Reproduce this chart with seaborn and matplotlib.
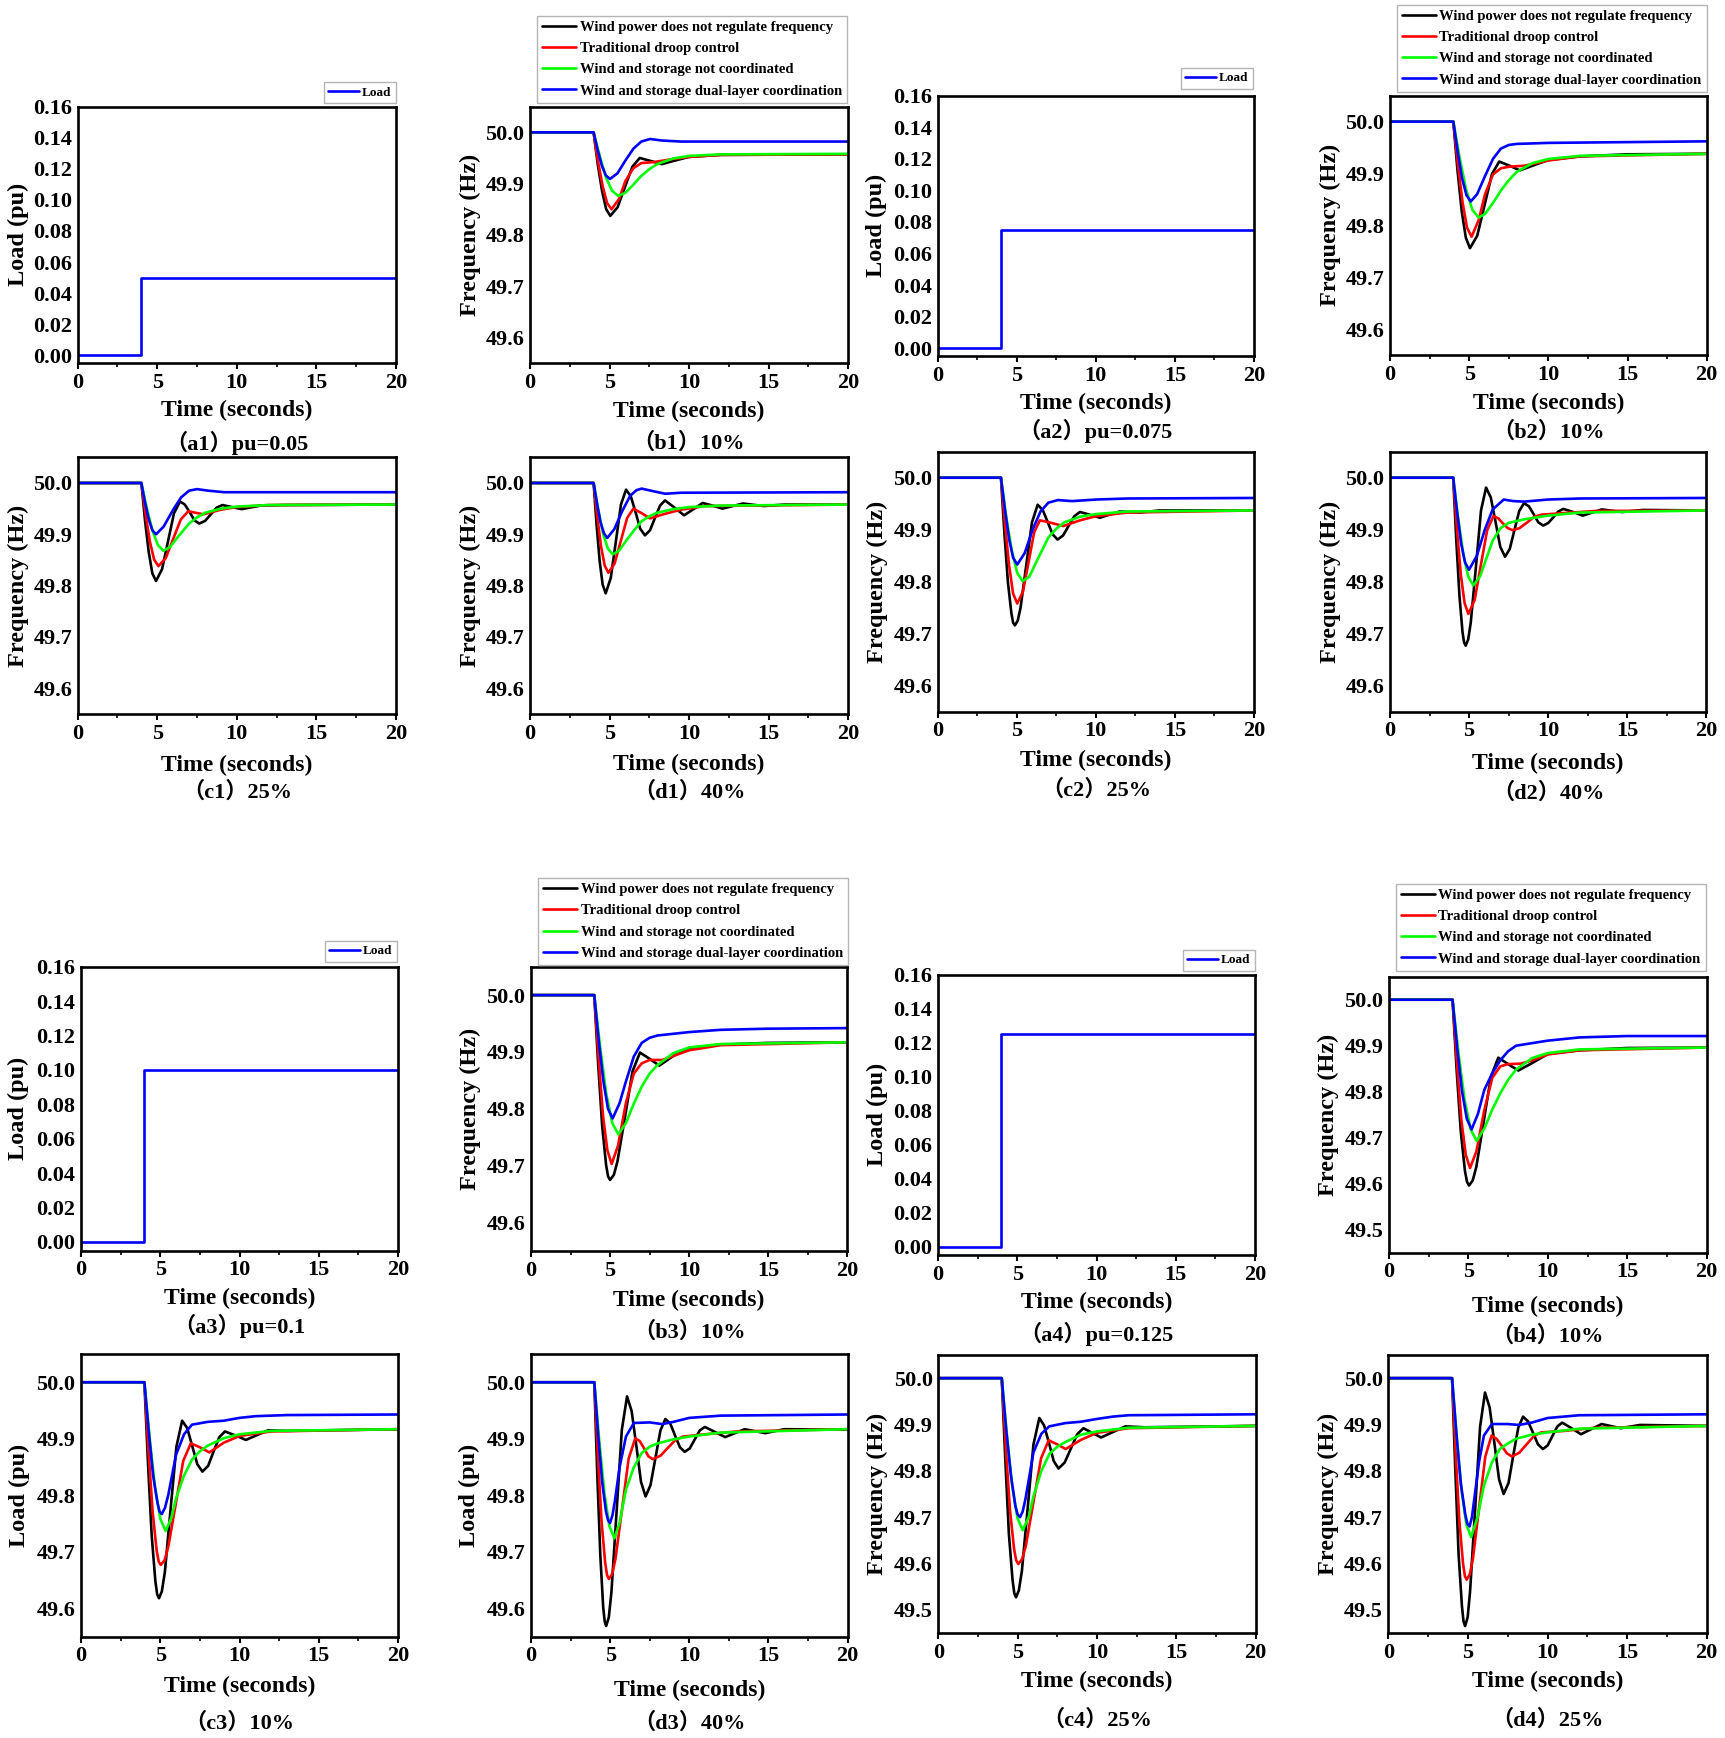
import numpy as np
import pandas as pd
import matplotlib
matplotlib.use("Agg")
import matplotlib.pyplot as plt
import seaborn as sns
from matplotlib.ticker import FormatStrFormatter

# ---------------- data ----------------
series_names = ["Wind power does not regulate frequency", "Traditional droop control",
                "Wind and storage not coordinated", "Wind and storage dual-layer coordination"]
series_colors = ["#000000", "#ff0000", "#00ff00", "#0000ff"]

time_ticks = [0, 5, 10, 15, 20]
load_ticks = [0.00, 0.02, 0.04, 0.06, 0.08, 0.10, 0.12, 0.14, 0.16]
freq_ticks = [49.6, 49.7, 49.8, 49.9, 50.0]
freq_ticks_low = [49.5, 49.6, 49.7, 49.8, 49.9, 50.0]

# load step (pu)
load_t = [0, 4, 4, 20]
load_a1 = [0, 0, 0.05, 0.05]
load_a2 = [0, 0, 0.075, 0.075]
load_a3 = [0, 0, 0.10, 0.10]
load_a4 = [0, 0, 0.125, 0.125]

# frequency traces (time s, frequency Hz)
b1_black = [(0,50.0),(4,50.0),(4.26,49.938),(4.53,49.886),(4.79,49.850),(5.05,49.837),(5.51,49.854),(5.98,49.894),(6.44,49.933),(6.9,49.950),(7.6,49.944),(8.3,49.938),(9,49.944),(10,49.952),(12,49.956),(20,49.957)]
b1_red = [(0,50.0),(4,50.0),(4.28,49.943),(4.57,49.895),(4.85,49.862),(5.13,49.850),(5.6,49.870),(6.0,49.905),(6.5,49.930),(7.0,49.940),(7.8,49.942),(9,49.948),(10,49.952),(12,49.956),(20,49.957)]
b1_green = [(0,50.0),(4,50.0),(4.39,49.953),(4.78,49.912),(5.16,49.886),(5.55,49.876),(6.0,49.882),(6.5,49.898),(7.0,49.915),(7.5,49.928),(8.0,49.938),(9,49.949),(10,49.954),(12,49.957),(20,49.958)]
b1_blue = [(0,50.0),(4,50.0),(4.26,49.965),(4.52,49.935),(4.77,49.916),(5.03,49.909),(5.5,49.920),(6.0,49.945),(6.5,49.968),(7.0,49.982),(7.55,49.987),(8.3,49.984),(9.5,49.982),(20,49.982)]

b2_black = [(0,50.0),(4,50.0),(4.26,49.907),(4.53,49.827),(4.79,49.776),(5.05,49.756),(5.51,49.780),(5.98,49.840),(6.44,49.899),(6.9,49.923),(7.55,49.915),(8.2,49.906),(9,49.915),(10,49.926),(12,49.933),(15,49.937),(20,49.938)]
b2_red = [(0,50.0),(4,50.0),(4.29,49.916),(4.58,49.845),(4.86,49.796),(5.15,49.778),(5.6,49.810),(6.0,49.860),(6.5,49.898),(7.0,49.910),(7.5,49.913),(8.5,49.915),(10,49.925),(12,49.933),(20,49.938)]
b2_green = [(0,50.0),(4,50.0),(4.4,49.930),(4.8,49.870),(5.2,49.830),(5.6,49.815),(6.0,49.822),(6.5,49.843),(7.0,49.867),(7.5,49.887),(8.0,49.903),(9,49.920),(10,49.928),(12,49.934),(20,49.938)]
b2_blue = [(0,50.0),(4,50.0),(4.28,49.941),(4.55,49.891),(4.83,49.858),(5.1,49.846),(5.5,49.860),(6.0,49.895),(6.5,49.928),(7.0,49.948),(7.5,49.955),(8.0,49.957),(10,49.959),(20,49.962)]

c1_black = [(0,50.0),(4,50.0),(4.23,49.927),(4.46,49.866),(4.69,49.824),(4.92,49.809),(5.3,49.832),(5.68,49.887),(6.05,49.941),(6.43,49.964),(6.73,49.958),(7.04,49.943),(7.34,49.927),(7.64,49.921),(8.0,49.926),(8.37,49.939),(8.73,49.952),(9.1,49.957),(9.7,49.953),(10.3,49.949),(11.5,49.956),(13,49.957),(20,49.958)]
c1_red = [(0,50.0),(4,50.0),(4.27,49.938),(4.54,49.885),(4.8,49.851),(5.07,49.838),(5.54,49.854),(6.01,49.892),(6.48,49.929),(6.95,49.945),(7.4,49.942),(7.9,49.939),(9,49.948),(10,49.953),(12,49.957),(20,49.958)]
c1_green = [(0,50.0),(4,50.0),(4.35,49.950),(4.69,49.908),(5.04,49.879),(5.38,49.868),(5.8,49.875),(6.3,49.895),(7.0,49.921),(7.5,49.933),(8.0,49.942),(9,49.950),(10,49.954),(12,49.957),(20,49.958)]
c1_blue = [(0,50.0),(4,50.0),(4.23,49.962),(4.46,49.930),(4.69,49.908),(4.92,49.900),(5.4,49.915),(6.0,49.948),(6.5,49.972),(7.0,49.985),(7.5,49.988),(8.2,49.985),(9.2,49.982),(20,49.982)]

d1_black = [(0,50.0),(4,50.0),(4.19,49.918),(4.38,49.848),(4.57,49.802),(4.76,49.785),(5.08,49.815),(5.4,49.886),(5.72,49.958),(6.04,49.987),(6.34,49.974),(6.64,49.943),(6.93,49.911),(7.23,49.898),(7.55,49.908),(7.86,49.932),(8.18,49.956),(8.49,49.966),(9.09,49.952),(9.69,49.937),(10.28,49.949),(10.86,49.961),(11.48,49.956),(12.1,49.950),(13.4,49.960),(14.7,49.955),(16,49.958),(20,49.958)]
d1_red = [(0,50.0),(4,50.0),(4.23,49.934),(4.47,49.876),(4.7,49.839),(4.93,49.825),(5.32,49.843),(5.72,49.888),(6.11,49.932),(6.5,49.950),(7.03,49.941),(7.55,49.931),(8.5,49.940),(9.5,49.948),(11,49.955),(20,49.958)]
d1_green = [(0,50.0),(4,50.0),(4.3,49.947),(4.6,49.901),(4.9,49.872),(5.2,49.861),(5.6,49.868),(6.1,49.890),(6.5,49.906),(7.0,49.925),(7.5,49.935),(8.0,49.942),(9,49.949),(10,49.953),(12,49.956),(20,49.958)]
d1_blue = [(0,50.0),(4,50.0),(4.22,49.959),(4.43,49.924),(4.65,49.902),(4.86,49.893),(5.3,49.910),(5.8,49.945),(6.3,49.975),(6.7,49.986),(7.02,49.989),(7.6,49.985),(8.5,49.979),(9.5,49.981),(20,49.982)]

c2_black = [(0,50.0),(4,50.0),(4.22,49.892),(4.44,49.799),(4.66,49.739),(4.77,49.721),(4.88,49.716),(5.06,49.725),(5.24,49.750),(5.6,49.832),(5.96,49.914),(6.32,49.948),(6.64,49.938),(6.95,49.915),(7.27,49.891),(7.58,49.881),(7.93,49.889),(8.29,49.908),(8.64,49.926),(8.99,49.934),(9.6,49.929),(10.25,49.923),(11.5,49.935),(12.8,49.933),(14,49.937),(20,49.937)]
c2_red = [(0,50.0),(4,50.0),(4.26,49.908),(4.52,49.830),(4.77,49.777),(5.03,49.758),(5.39,49.781),(5.75,49.838),(6.1,49.895),(6.46,49.918),(7.2,49.913),(7.94,49.907),(9,49.918),(10,49.926),(12,49.933),(20,49.937)]
c2_green = [(0,50.0),(4,50.0),(4.34,49.924),(4.69,49.859),(5.03,49.817),(5.37,49.801),(5.8,49.810),(6.3,49.842),(7.0,49.885),(7.5,49.902),(8.0,49.914),(9,49.925),(10,49.930),(12,49.935),(20,49.937)]
c2_blue = [(0,50.0),(4,50.0),(4.26,49.937),(4.52,49.881),(4.77,49.846),(5.03,49.833),(5.5,49.855),(6.0,49.900),(6.5,49.935),(7.0,49.952),(7.6,49.957),(8.5,49.955),(10,49.958),(12,49.960),(20,49.961)]

d2_black = [(0,50.0),(4,50.0),(4.2,49.877),(4.4,49.771),(4.59,49.703),(4.69,49.683),(4.79,49.677),(4.95,49.689),(5.11,49.721),(5.44,49.829),(5.76,49.937),(6.08,49.981),(6.38,49.962),(6.68,49.915),(6.98,49.867),(7.28,49.848),(7.58,49.863),(7.88,49.900),(8.18,49.936),(8.48,49.951),(8.79,49.945),(9.09,49.930),(9.39,49.914),(9.7,49.908),(10.02,49.913),(10.34,49.924),(10.65,49.935),(10.97,49.940),(11.6,49.934),(12.2,49.927),(13.4,49.939),(14.7,49.934),(16,49.938),(20,49.937)]
d2_red = [(0,50.0),(4,50.0),(4.24,49.900),(4.48,49.814),(4.72,49.759),(4.96,49.738),(5.36,49.765),(5.75,49.832),(6.15,49.899),(6.54,49.926),(6.85,49.922),(7.15,49.912),(7.45,49.903),(7.76,49.899),(8.2,49.903),(8.68,49.914),(9.14,49.925),(9.6,49.929),(11,49.932),(13,49.936),(20,49.937)]
d2_green = [(0,50.0),(4,50.0),(4.32,49.921),(4.64,49.853),(4.95,49.810),(5.27,49.793),(5.7,49.810),(6.1,49.845),(6.5,49.879),(7.0,49.903),(7.5,49.913),(8.5,49.920),(10,49.927),(12,49.933),(20,49.937)]
d2_blue = [(0,50.0),(4,50.0),(4.25,49.933),(4.5,49.874),(4.75,49.837),(5.0,49.823),(5.5,49.850),(6.0,49.900),(6.5,49.939),(7.2,49.958),(7.8,49.955),(8.5,49.954),(10,49.958),(12,49.960),(20,49.961)]

b3_black = [(0,50.0),(4,50.0),(4.25,49.877),(4.5,49.770),(4.75,49.701),(4.875,49.681),(5.0,49.675),(5.24,49.684),(5.47,49.708),(5.95,49.787),(6.42,49.866),(6.89,49.899),(7.5,49.888),(8.11,49.876),(9.0,49.893),(10,49.907),(12,49.913),(15,49.916),(20,49.917)]
b3_red = [(0,50.0),(4,50.0),(4.28,49.887),(4.55,49.789),(4.83,49.727),(5.1,49.703),(5.5,49.735),(6.0,49.810),(6.5,49.862),(7.0,49.880),(7.5,49.886),(8.3,49.886),(9.0,49.893),(10,49.903),(12,49.912),(20,49.917)]
b3_green = [(0,50.0),(4,50.0),(4.38,49.907),(4.76,49.826),(5.14,49.775),(5.52,49.755),(6.0,49.775),(6.5,49.809),(7.0,49.839),(7.5,49.862),(8.0,49.877),(9.0,49.898),(10,49.908),(12,49.914),(20,49.917)]
b3_blue = [(0,50.0),(4,50.0),(4.29,49.918),(4.58,49.848),(4.87,49.800),(5.16,49.783),(5.6,49.810),(6.0,49.848),(6.5,49.892),(7.0,49.916),(7.5,49.925),(8.0,49.929),(10,49.935),(12,49.939),(15,49.941),(20,49.942)]

b4_black = [(0,50.0),(4,50.0),(4.26,49.846),(4.52,49.713),(4.78,49.628),(4.91,49.604),(5.04,49.596),(5.27,49.607),(5.5,49.637),(5.96,49.735),(6.42,49.833),(6.88,49.874),(7.5,49.860),(8.14,49.846),(9.0,49.862),(10,49.882),(12,49.890),(15,49.895),(20,49.896)]
b4_red = [(0,50.0),(4,50.0),(4.28,49.861),(4.55,49.740),(4.83,49.663),(5.1,49.634),(5.5,49.670),(6.0,49.760),(6.5,49.830),(7.0,49.855),(7.5,49.860),(8.3,49.861),(9.0,49.868),(10,49.881),(12,49.890),(20,49.896)]
b4_green = [(0,50.0),(4,50.0),(4.38,49.883),(4.76,49.782),(5.14,49.718),(5.52,49.693),(6.0,49.720),(6.5,49.761),(7.0,49.796),(7.5,49.826),(8.0,49.848),(9.0,49.873),(10,49.884),(12,49.892),(20,49.896)]
b4_blue = [(0,50.0),(4,50.0),(4.3,49.893),(4.6,49.800),(4.9,49.741),(5.2,49.718),(5.6,49.752),(6.0,49.804),(6.5,49.840),(7.0,49.868),(7.5,49.888),(8.0,49.900),(10,49.911),(12,49.918),(15,49.921),(20,49.921)]

c3_black = [(0,50.0),(4,50.0),(4.23,49.855),(4.46,49.729),(4.69,49.649),(4.805,49.625),(4.92,49.618),(5.10,49.630),(5.29,49.664),(5.65,49.775),(6.02,49.886),(6.38,49.932),(6.7,49.919),(7.02,49.887),(7.34,49.855),(7.66,49.842),(8.02,49.852),(8.37,49.878),(8.73,49.903),(9.08,49.913),(9.74,49.906),(10.4,49.898),(11.8,49.915),(13,49.914),(20,49.917)]
c3_red = [(0,50.0),(4,50.0),(4.26,49.877),(4.52,49.771),(4.77,49.703),(4.90,49.683),(5.03,49.677),(5.27,49.685),(5.5,49.708),(5.98,49.785),(6.45,49.861),(6.93,49.892),(7.5,49.885),(8.1,49.876),(9,49.893),(10,49.905),(12,49.913),(20,49.917)]
c3_green = [(0,50.0),(4,50.0),(4.34,49.900),(4.67,49.814),(5.01,49.758),(5.34,49.737),(5.7,49.760),(6.0,49.795),(6.5,49.835),(7.0,49.863),(7.5,49.878),(8.0,49.888),(9.0,49.901),(10,49.908),(12,49.914),(20,49.917)]
c3_blue = [(0,50.0),(4,50.0),(4.28,49.911),(4.55,49.835),(4.83,49.786),(4.96,49.771),(5.1,49.767),(5.3,49.778),(5.5,49.800),(6.0,49.872),(6.5,49.908),(7.0,49.925),(8.0,49.930),(9.0,49.932),(10,49.937),(11,49.940),(13,49.942),(20,49.943)]

d3_black = [(0,50.0),(4,50.0),(4.19,49.836),(4.38,49.694),(4.56,49.603),(4.656,49.577),(4.75,49.569),(4.915,49.584),(5.08,49.628),(5.41,49.772),(5.74,49.916),(6.07,49.975),(6.36,49.949),(6.66,49.887),(6.95,49.824),(7.24,49.798),(7.55,49.818),(7.87,49.867),(8.18,49.915),(8.49,49.935),(8.8,49.927),(9.1,49.906),(9.41,49.885),(9.71,49.877),(10.03,49.883),(10.35,49.899),(10.67,49.915),(10.99,49.921),(11.63,49.912),(12.27,49.903),(13.5,49.917),(14.8,49.910),(16,49.917),(20,49.916)]
d3_red = [(0,50.0),(4,50.0),(4.23,49.868),(4.46,49.753),(4.69,49.680),(4.805,49.659),(4.92,49.652),(5.13,49.661),(5.34,49.688),(5.76,49.777),(6.17,49.865),(6.59,49.901),(6.87,49.896),(7.15,49.883),(7.42,49.869),(7.7,49.864),(8.18,49.870),(8.65,49.884),(9.13,49.898),(9.6,49.904),(11,49.908),(13,49.913),(20,49.917)]
d3_green = [(0,50.0),(4,50.0),(4.32,49.895),(4.64,49.804),(4.95,49.746),(5.27,49.724),(5.6,49.752),(6.0,49.810),(6.5,49.850),(7.0,49.875),(7.5,49.886),(8.0,49.892),(9.0,49.899),(10,49.904),(12,49.911),(20,49.917)]
d3_blue = [(0,50.0),(4,50.0),(4.25,49.905),(4.5,49.823),(4.74,49.771),(4.87,49.756),(4.99,49.751),(5.15,49.765),(5.3,49.790),(5.6,49.850),(6.0,49.904),(6.5,49.928),(7.5,49.929),(8.3,49.926),(9.0,49.930),(10,49.937),(12,49.941),(20,49.943)]

c4_black = [(0,50.0),(4,50.0),(4.23,49.820),(4.45,49.664),(4.68,49.565),(4.79,49.536),(4.9,49.527),(5.08,49.542),(5.27,49.584),(5.64,49.721),(6.0,49.857),(6.37,49.914),(6.67,49.898),(6.98,49.860),(7.28,49.821),(7.58,49.805),(7.97,49.818),(8.37,49.849),(8.76,49.879),(9.15,49.892),(9.7,49.882),(10.26,49.872),(11.8,49.896),(13,49.894),(20,49.897)]
c4_red = [(0,50.0),(4,50.0),(4.26,49.848),(4.52,49.715),(4.78,49.631),(4.91,49.607),(5.04,49.599),(5.28,49.609),(5.52,49.638),(6.0,49.733),(6.48,49.827),(6.96,49.866),(7.5,49.857),(8.03,49.847),(9,49.867),(10,49.882),(12,49.892),(20,49.897)]
c4_green = [(0,50.0),(4,50.0),(4.33,49.875),(4.66,49.767),(4.99,49.698),(5.32,49.672),(5.7,49.700),(6.0,49.745),(6.5,49.800),(7.0,49.836),(7.5,49.852),(8.0,49.862),(9.0,49.878),(10,49.885),(12,49.893),(20,49.897)]
c4_blue = [(0,50.0),(4,50.0),(4.29,49.886),(4.58,49.790),(4.86,49.724),(5.0,49.706),(5.15,49.700),(5.32,49.712),(5.5,49.740),(6.0,49.840),(6.5,49.880),(7.0,49.896),(8.0,49.903),(9.0,49.906),(10,49.912),(11,49.917),(12,49.920),(20,49.922)]

d4_black = [(0,50.0),(4,50.0),(4.21,49.797),(4.41,49.620),(4.62,49.508),(4.72,49.475),(4.82,49.465),(4.98,49.484),(5.13,49.539),(5.45,49.717),(5.76,49.895),(6.07,49.969),(6.36,49.937),(6.66,49.860),(6.95,49.782),(7.24,49.750),(7.55,49.774),(7.85,49.834),(8.16,49.893),(8.46,49.917),(8.77,49.907),(9.09,49.882),(9.4,49.857),(9.71,49.847),(10.01,49.855),(10.32,49.876),(10.62,49.896),(10.92,49.904),(11.51,49.892),(12.1,49.879),(13.4,49.901),(14.6,49.892),(15.8,49.899),(20,49.897)]
d4_red = [(0,50.0),(4,50.0),(4.23,49.835),(4.46,49.691),(4.69,49.600),(4.805,49.573),(4.92,49.565),(5.115,49.577),(5.31,49.610),(5.7,49.721),(6.09,49.831),(6.48,49.876),(6.8,49.869),(7.12,49.854),(7.44,49.838),(7.76,49.831),(8.22,49.839),(8.68,49.857),(9.14,49.875),(9.6,49.883),(11,49.886),(13,49.893),(20,49.897)]
d4_green = [(0,50.0),(4,50.0),(4.3,49.870),(4.6,49.756),(4.9,49.684),(5.2,49.657),(5.6,49.700),(6.0,49.768),(6.5,49.818),(7.0,49.847),(7.5,49.859),(8.0,49.869),(9.0,49.878),(10,49.883),(12,49.891),(20,49.897)]
d4_blue = [(0,50.0),(4,50.0),(4.28,49.878),(4.55,49.773),(4.83,49.706),(4.96,49.686),(5.1,49.680),(5.25,49.700),(5.4,49.740),(5.7,49.820),(6.0,49.876),(6.5,49.901),(7.5,49.901),(8.2,49.899),(9.0,49.904),(10,49.914),(12,49.920),(20,49.922)]

# ---------------- style ----------------
sns.set_theme(style="ticks")
plt.rcParams["font.family"] = ["Liberation Serif", "Noto Sans CJK SC"]
plt.rcParams["font.weight"] = "bold"
plt.rcParams["axes.labelweight"] = "bold"
plt.rcParams["text.color"] = "black"
plt.rcParams["axes.labelcolor"] = "black"
plt.rcParams["xtick.color"] = "black"
plt.rcParams["ytick.color"] = "black"

W, H = 1725, 1738
fig = plt.figure(figsize=(W / 100, H / 100), dpi=100)
fig.patch.set_facecolor("white")


def make_axes(box):
    l, r, t, b = box
    return fig.add_axes([l / W, 1 - b / H, (r - l) / W, (b - t) / H])


def finish(ax, box, ylabel, ylab_x, xlab_y, cap_y, caption):
    l, r, t, b = box
    ax.set_xlim(0, 20)
    ax.set_xticks(time_ticks)
    ax.set_xticks([2.5, 7.5, 12.5, 17.5], minor=True)
    ax.tick_params(axis="x", which="major", bottom=True, direction="out", length=4, width=1.5, pad=3, labelsize=16)
    ax.tick_params(axis="x", which="minor", bottom=True, direction="out", length=3, width=1.2)
    ax.tick_params(axis="y", which="major", left=True, length=0, pad=4, labelsize=16)
    for sp in ax.spines.values():
        sp.set_visible(True)
        sp.set_linewidth(1.9)
        sp.set_color("black")
    ax.set_xlabel("Time (seconds)", fontsize=17)
    ax.xaxis.label.set_va("center")
    ax.xaxis.set_label_coords(0.5, -(xlab_y - b) / (b - t))
    ax.set_ylabel(ylabel, fontsize=17.5)
    ax.yaxis.label.set_va("center")
    ax.yaxis.set_label_coords(-(l - ylab_x) / (r - l), 0.5)
    fig.text((l + r) / 2 / W, 1 - cap_y / H, caption, ha="center", va="center", fontsize=16)


def put_legend(ax, leg_right, leg_bottom, size, spacing):
    leg = ax.legend(loc="lower right", bbox_to_anchor=(leg_right / W, 1 - leg_bottom / H),
                    bbox_transform=fig.transFigure, borderaxespad=0, frameon=True, fancybox=False,
                    edgecolor="#b5b5b5", framealpha=1, fontsize=size, handlelength=2.3,
                    handletextpad=0.25, labelspacing=spacing, borderpad=0.35)
    leg.get_frame().set_linewidth(1.0)


def draw_load(ax, load_y, box, ylab_x, xlab_y, cap_y, caption, leg_pos):
    sns.lineplot(x=load_t, y=load_y, ax=ax, color="#0000ff", linewidth=1.9, sort=False,
                 estimator=None, label="Load")
    ax.set_ylim(-0.005, 0.16)
    ax.set_yticks(load_ticks)
    ax.yaxis.set_major_formatter(FormatStrFormatter("%.2f"))
    put_legend(ax, leg_pos[0], leg_pos[1], 9.5, 0.3)
    finish(ax, box, "Load (pu)", ylab_x, xlab_y, cap_y, caption)


def draw_freq(ax, traces, low, box, ylabel, ylab_x, xlab_y, cap_y, caption, leg_pos=None):
    for trace, name, col in zip(traces, series_names, series_colors):
        tt = [p[0] for p in trace]
        ff = [p[1] for p in trace]
        sns.lineplot(x=tt, y=ff, ax=ax, color=col, linewidth=1.9, sort=False, estimator=None,
                     label=name if leg_pos else None, legend=bool(leg_pos))
    if low:
        ax.set_ylim(49.45, 50.05)
        ax.set_yticks(freq_ticks_low)
    else:
        ax.set_ylim(49.55, 50.05)
        ax.set_yticks(freq_ticks)
    ax.yaxis.set_major_formatter(FormatStrFormatter("%.1f"))
    if leg_pos:
        put_legend(ax, leg_pos[0], leg_pos[1], 10.5, 0.55)
    finish(ax, box, ylabel, ylab_x, xlab_y, cap_y, caption)


FREQ = "Frequency (Hz)"

# top block
box = (77.7, 396, 106.7, 363)
draw_load(make_axes(box), load_a1, box, 18.3, 410.7, 443, "（a1）pu=0.05", (396, 103.3))
box = (530, 848, 106.7, 363)
draw_freq(make_axes(box), [b1_black, b1_red, b1_green, b1_blue], False, box, FREQ, 470.7, 411.7, 443, "（b1）10%", (847, 102.7))
box = (937.7, 1254, 95.7, 356)
draw_load(make_axes(box), load_a2, box, 876.7, 403, 430.7, "（a2）pu=0.075", (1253, 89))
box = (1390, 1706.7, 95.7, 355)
draw_freq(make_axes(box), [b2_black, b2_red, b2_green, b2_blue], False, box, FREQ, 1330.7, 403, 431.7, "（b2）10%", (1706.7, 91.7))

box = (77.7, 396, 457.3, 714)
draw_freq(make_axes(box), [c1_black, c1_red, c1_green, c1_blue], False, box, FREQ, 18.3, 765, 791.7, "（c1）25%")
box = (530, 848, 457.3, 714)
draw_freq(make_axes(box), [d1_black, d1_red, d1_green, d1_blue], False, box, FREQ, 470.7, 764, 791.7, "（d1）40%")
box = (937.7, 1254, 451.7, 711.7)
draw_freq(make_axes(box), [c2_black, c2_red, c2_green, c2_blue], False, box, FREQ, 877, 760, 790, "（c2）25%")
box = (1390, 1706, 451.7, 711.7)
draw_freq(make_axes(box), [d2_black, d2_red, d2_green, d2_blue], False, box, FREQ, 1330.7, 763, 793, "（d2）40%")

# bottom block
box = (81, 398, 966.7, 1250.5)
draw_load(make_axes(box), load_a3, box, 18.8, 1298, 1326, "（a3）pu=0.1", (397, 962))
box = (531, 847.3, 966.7, 1251)
draw_freq(make_axes(box), [b3_black, b3_red, b3_green, b3_blue], False, box, FREQ, 470, 1300, 1331.7, "（b3）10%", (848, 965))
box = (938, 1255, 974.5, 1255)
draw_load(make_axes(box), load_a4, box, 877, 1302.6, 1333.6, "（a4）pu=0.125", (1255, 971))
box = (1389, 1706.7, 976.7, 1252.7)
draw_freq(make_axes(box), [b4_black, b4_red, b4_green, b4_blue], True, box, FREQ, 1328, 1306.7, 1336, "（b4）10%", (1705.7, 970.7))

box = (81, 398, 1354, 1636.7)
draw_freq(make_axes(box), [c3_black, c3_red, c3_green, c3_blue], False, box, "Load (pu)", 19.2, 1686.7, 1723, "（c3）10%")
box = (531, 847.5, 1354, 1636.7)
draw_freq(make_axes(box), [d3_black, d3_red, d3_green, d3_blue], False, box, "Load (pu)", 469, 1690, 1723, "（d3）40%")
box = (938.3, 1255.5, 1355, 1633)
draw_freq(make_axes(box), [c4_black, c4_red, c4_green, c4_blue], True, box, FREQ, 877.4, 1681.7, 1720, "（c4）25%")
box = (1388.4, 1706.7, 1355, 1633)
draw_freq(make_axes(box), [d4_black, d4_red, d4_green, d4_blue], True, box, FREQ, 1328.8, 1681.7, 1720, "（d4）25%")

fig.savefig("out.png", dpi=100, facecolor="white")
